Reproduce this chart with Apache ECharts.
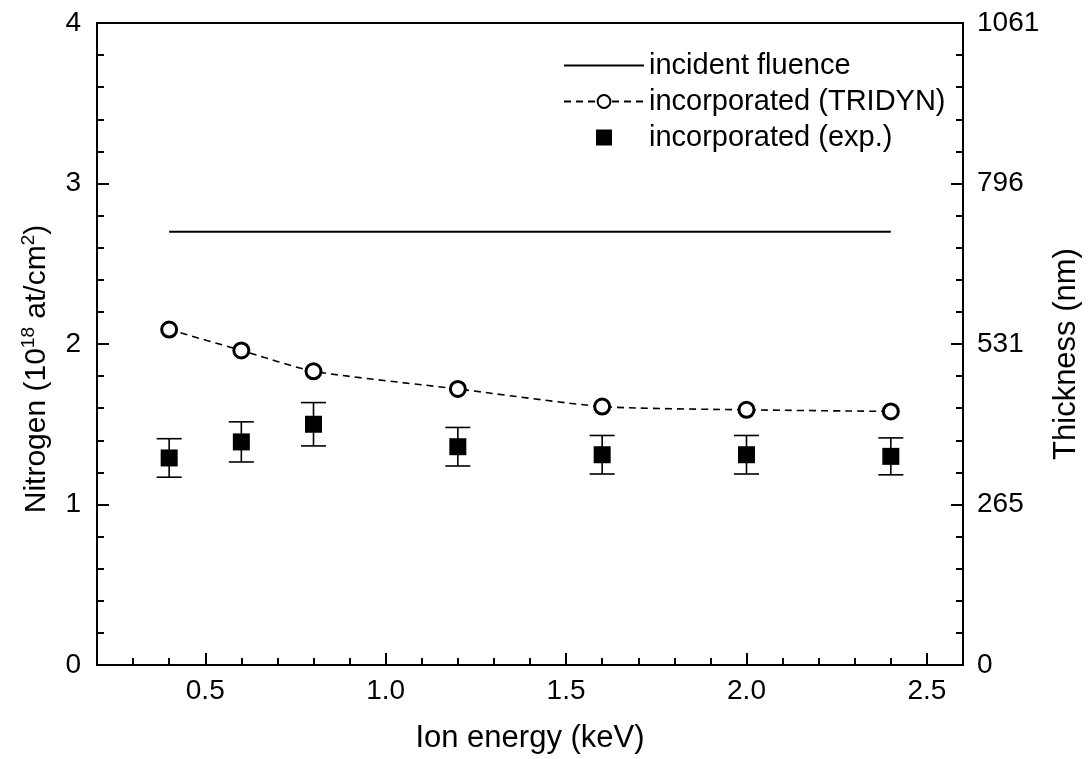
<!DOCTYPE html>
<html>
<head>
<meta charset="utf-8">
<script src="https://cdn.jsdelivr.net/npm/echarts@6/dist/echarts.min.js"></script>
<style>
  html, body { margin: 0; padding: 0; background: #fff; }
  #chart { width: 1092px; height: 759px; }
</style>
</head>
<body>
<div id="chart"></div>
<script>
// Ion energies (keV) at which the samples were implanted
const energies = [0.4, 0.6, 0.8, 1.2, 1.6, 2.0, 2.4];
// Incident nitrogen fluence (10^18 at/cm^2), constant over the energy range
const fluenceEnergies = [0.4, 2.4];
const incidentFluence = 2.7;
// Retained nitrogen from TRIDYN simulation
const tridyn = [2.09, 1.96, 1.83, 1.72, 1.61, 1.59, 1.58];
// Retained nitrogen measured, with its uncertainty
const measured = [1.29, 1.39, 1.50, 1.36, 1.31, 1.31, 1.30];
const measuredErr = [0.12, 0.125, 0.135, 0.12, 0.12, 0.12, 0.115];
// Tick labels
const xTickValues = [0.5, 1.0, 1.5, 2.0, 2.5];
const xTickLabels = ['0.5', '1.0', '1.5', '2.0', '2.5'];
const leftTickLabels = ['0', '1', '2', '3', '4'];
const rightTickLabels = ['0', '265', '531', '796', '1061'];

const FONT = 'Liberation Sans, Arial, Helvetica, sans-serif';
const BLACK = '#000';
const axisLineStyle = { color: BLACK, width: 2 };

function lookupX(v) {
  const i = xTickValues.findIndex(t => Math.abs(t - v) < 1e-6);
  return i >= 0 ? xTickLabels[i] : '';
}

const chart = echarts.init(document.getElementById('chart'), null, { renderer: 'canvas' });

const option = {
  backgroundColor: '#fff',
  animation: false,
  textStyle: { fontFamily: FONT, color: BLACK },
  grid: {
    left: 97, right: 129, top: 23, bottom: 91,
    show: true, borderColor: BLACK, borderWidth: 2, backgroundColor: 'transparent'
  },
  legend: {
    orient: 'vertical',
    left: 563, top: 51, padding: 0,
    itemWidth: 80, itemHeight: 16, itemGap: 7,
    textStyle: { fontFamily: FONT, fontSize: 29, color: BLACK, lineHeight: 29 },
    selectedMode: false,
    data: [
      { name: 'incident fluence', icon: 'path://M0,0H80V2H0Z' },
      { name: 'incorporated (TRIDYN)' },
      { name: 'incorporated (exp.)', icon: 'path://M0,0H16V16H0Z' }
    ]
  },
  xAxis: [
    {
      type: 'value', min: 0.2, max: 2.6, interval: 0.1,
      axisLine: { lineStyle: axisLineStyle },
      axisTick: { inside: true, length: 7, lineStyle: { color: BLACK, width: 2 } },
      axisLabel: {
        customValues: xTickValues, formatter: lookupX,
        fontFamily: FONT, fontSize: 28, color: BLACK, margin: 12
      },
      splitLine: { show: false },
      name: 'Ion energy (keV)', nameLocation: 'middle', nameGap: 58,
      nameTextStyle: { fontFamily: FONT, fontSize: 31, color: BLACK }
    },
    {
      type: 'value', min: 0.2, max: 2.6, position: 'bottom',
      axisLine: { show: false },
      axisTick: { customValues: xTickValues, inside: true, length: 12, lineStyle: { color: BLACK, width: 2 } },
      axisLabel: { show: false },
      splitLine: { show: false }
    }
  ],
  yAxis: [
    {
      type: 'value', min: 0, max: 4, interval: 1, position: 'left',
      axisLine: { show: true, lineStyle: axisLineStyle },
      axisTick: { show: true, inside: true, length: 12, lineStyle: { color: BLACK, width: 2 } },
      minorTick: { show: true, splitNumber: 5, length: 7, lineStyle: { color: BLACK, width: 2 } },
      axisLabel: {
        formatter: v => leftTickLabels[Math.round(v)],
        fontFamily: FONT, fontSize: 28, color: BLACK, margin: 16
      },
      splitLine: { show: false },
      name: 'Nitrogen (10{sup|18} at/cm{sup|2})',
      nameLocation: 'middle', nameRotate: 90, nameGap: 43,
      nameTextStyle: {
        fontFamily: FONT, fontSize: 30, color: BLACK, lineHeight: 35,
        padding: [0, 50, 0, 0],
        rich: { sup: { fontFamily: FONT, fontSize: 19, color: BLACK, lineHeight: 19, verticalAlign: 'top' } }
      }
    },
    {
      type: 'value', min: 0, max: 1061, interval: 265.25, position: 'right',
      axisLine: { show: true, lineStyle: axisLineStyle },
      axisTick: { show: true, inside: true, length: 12, lineStyle: { color: BLACK, width: 2 } },
      minorTick: { show: true, splitNumber: 5, length: 7, lineStyle: { color: BLACK, width: 2 } },
      axisLabel: {
        formatter: v => rightTickLabels[Math.round(v / 265.25)],
        fontFamily: FONT, fontSize: 28, color: BLACK, margin: 14
      },
      splitLine: { show: false },
      name: 'Thickness (nm)',
      nameLocation: 'middle', nameRotate: 90, nameGap: 88,
      nameTextStyle: { fontFamily: FONT, fontSize: 31, color: BLACK, padding: [0, 20, 0, 0] }
    }
  ],
  series: [
    {
      name: 'incident fluence', type: 'line',
      xAxisIndex: 0, yAxisIndex: 0,
      data: fluenceEnergies.map(e => [e, incidentFluence]),
      symbol: 'none', color: BLACK,
      lineStyle: { color: BLACK, width: 2 },
      silent: true
    },
    {
      name: 'incorporated (TRIDYN)', type: 'line',
      xAxisIndex: 0, yAxisIndex: 0,
      data: energies.map((e, i) => [e, tridyn[i]]),
      smooth: 0.2,
      symbol: 'circle', symbolSize: 15, showSymbol: true,
      itemStyle: { color: '#fff', borderColor: BLACK, borderWidth: 3 },
      lineStyle: { color: BLACK, width: 1.6, type: [7, 5] },
      silent: true, z: 3
    },
    {
      type: 'custom',
      xAxisIndex: 0, yAxisIndex: 0,
      data: energies.map((e, i) => [e, measured[i] - measuredErr[i], measured[i] + measuredErr[i]]),
      renderItem(params, api) {
        const x = api.value(0);
        const lo = api.coord([x, api.value(1)]);
        const hi = api.coord([x, api.value(2)]);
        const hw = 12.5;
        const st = { stroke: BLACK, lineWidth: 1.6 };
        return {
          type: 'group',
          children: [
            { type: 'line', shape: { x1: lo[0], y1: lo[1], x2: hi[0], y2: hi[1] }, style: st },
            { type: 'line', shape: { x1: lo[0] - hw, y1: lo[1], x2: lo[0] + hw, y2: lo[1] }, style: st },
            { type: 'line', shape: { x1: hi[0] - hw, y1: hi[1], x2: hi[0] + hw, y2: hi[1] }, style: st }
          ]
        };
      },
      silent: true, z: 2
    },
    {
      name: 'incorporated (exp.)', type: 'scatter',
      xAxisIndex: 0, yAxisIndex: 0,
      data: energies.map((e, i) => [e, measured[i]]),
      symbol: 'rect', symbolSize: 17, color: BLACK,
      itemStyle: { color: BLACK, opacity: 1 },
      silent: true, z: 4
    }
  ]
};

chart.setOption(option);
</script>
</body>
</html>
